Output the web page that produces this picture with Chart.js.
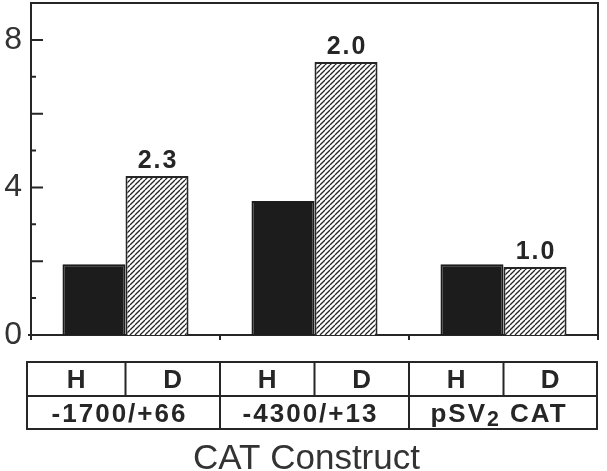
<!DOCTYPE html>
<html>
<head>
<meta charset="utf-8">
<script src="https://cdn.jsdelivr.net/npm/chart.js@4.4.1/dist/chart.umd.min.js"></script>
<style>
  body { margin: 0; background: #fff; }
  #wrap { width: 607px; height: 471px; }
</style>
</head>
<body>
<div id="wrap"><canvas id="grafico" width="607" height="471"></canvas></div>
<script>
// datos
const construcciones = ['-1700/+66', '-4300/+13', 'pSV_2 CAT'];
const celdas = ['H', 'D'];
const valoresH = [1.92, 3.63, 1.92];
const valoresD = [4.31, 7.40, 1.84];
const cocientes = ['2.3', '2.0', '1.0'];
const etiquetasY = [0, 4, 8];
const tituloX = 'CAT Construct';

const tinta = '#262626';
const fuente = '"Liberation Sans", Arial, Helvetica, sans-serif';

// trama rayada para las barras D
function crearTrama() {
    const s = 5;
    const c = document.createElement('canvas');
    c.width = s; c.height = s;
    const g = c.getContext('2d');
    g.fillStyle = '#fff';
    g.fillRect(0, 0, s, s);
    g.strokeStyle = tinta;
    g.lineWidth = 1.3;
    for (let o = -s; o <= s; o += s) {
        g.beginPath();
        g.moveTo(o, s);
        g.lineTo(o + s, 0);
        g.stroke();
    }
    return g.createPattern(c, 'repeat');
}

// texto con subindice marcado con "_"
function textoConSub(ctx, txt, cx, base, size) {
    const partes = [];
    let i = 0;
    while (i < txt.length) {
        const j = txt.indexOf('_', i);
        if (j < 0) { partes.push({ t: txt.slice(i), sub: false }); break; }
        if (j > i) partes.push({ t: txt.slice(i, j), sub: false });
        partes.push({ t: txt[j + 1], sub: true });
        i = j + 2;
    }
    let total = 0;
    partes.forEach(p => {
        ctx.font = 'bold ' + (p.sub ? size * 0.82 : size) + 'px ' + fuente;
        p.w = ctx.measureText(p.t).width;
        total += p.w;
    });
    let xx = cx - total / 2;
    ctx.textAlign = 'left';
    partes.forEach(p => {
        ctx.font = 'bold ' + (p.sub ? size * 0.82 : size) + 'px ' + fuente;
        ctx.fillText(p.t, xx, base + (p.sub ? 4 : 0));
        xx += p.w;
    });
}

const extras = {
    id: 'extras',
    afterDraw(chart) {
        const { ctx, chartArea: a, scales: { x, y } } = chart;
        ctx.save();
        ctx.strokeStyle = tinta;
        ctx.fillStyle = tinta;
        ctx.lineWidth = 2;

        // marco superior y derecho
        ctx.beginPath();
        ctx.moveTo(a.left, a.top);
        ctx.lineTo(a.right, a.top);
        ctx.lineTo(a.right, a.bottom);
        ctx.stroke();

        // marcas hacia dentro en el eje Y
        ctx.beginPath();
        for (let v = 1; v <= 8; v++) {
            const yy = y.getPixelForValue(v);
            ctx.moveTo(a.left, yy);
            ctx.lineTo(a.left + (v % 2 === 0 ? 12 : 5), yy);
        }
        ctx.moveTo(a.left - 3, y.getPixelForValue(0));
        ctx.lineTo(a.left, y.getPixelForValue(0));
        ctx.stroke();

        // cocientes sobre las barras D
        ctx.font = 'bold 25px ' + fuente;
        ctx.letterSpacing = '2px';
        ctx.textAlign = 'center';
        ctx.textBaseline = 'alphabetic';
        chart.getDatasetMeta(1).data.forEach((barra, i) => {
            ctx.fillText(cocientes[i], barra.x + 1, barra.y - 8);
        });

        // tabla bajo el eje
        const mitad = (x.getPixelForValue(1) - x.getPixelForValue(0)) / 2;
        const izq = a.left - 4, der = a.right - 1;
        const t0 = a.bottom + 27, t1 = a.bottom + 61, t2 = a.bottom + 94;
        ctx.strokeRect(izq, t0, der - izq, t2 - t0);
        ctx.beginPath();
        ctx.moveTo(izq, t1);
        ctx.lineTo(der, t1);
        for (let i = 0; i < construcciones.length; i++) {
            const cx = x.getPixelForValue(i);
            ctx.moveTo(cx, t0);
            ctx.lineTo(cx, t1);
            if (i > 0) {
                ctx.moveTo(cx - mitad, t0);
                ctx.lineTo(cx - mitad, t2);
            }
        }
        ctx.stroke();

        ctx.letterSpacing = '0px';
        for (let i = 0; i < construcciones.length; i++) {
            const cx = x.getPixelForValue(i);
            const ini = i === 0 ? izq : cx - mitad;
            const fin = i === construcciones.length - 1 ? der : cx + mitad;
            ctx.font = 'bold 26px ' + fuente;
            ctx.textAlign = 'center';
            ctx.fillText(celdas[0], (ini + cx) / 2, t1 - 8);
            ctx.fillText(celdas[1], (cx + fin) / 2, t1 - 8);
            ctx.letterSpacing = '2px';
            textoConSub(ctx, construcciones[i], (ini + fin) / 2 - 4, t2 - 7, 26);
            ctx.letterSpacing = '0px';
        }

        // titulo del eje X
        ctx.font = '35px ' + fuente;
        ctx.textAlign = 'center';
        ctx.fillStyle = '#333';
        ctx.fillText(tituloX, (a.left + a.right) / 2 - 8, 469);
        ctx.restore();
    }
};

function dibujarGrafico() {
    const canvas = document.getElementById('grafico');
    const trama = crearTrama();

    new Chart(canvas, {
        type: 'bar',
        data: {
            labels: construcciones,
            datasets: [{
                label: celdas[0],
                data: valoresH,
                backgroundColor: '#1c1c1c',
                borderColor: '#1c1c1c',
                borderWidth: 2,
                categoryPercentage: 0.667,
                barPercentage: 1.0
            }, {
                label: celdas[1],
                data: valoresD,
                backgroundColor: trama,
                borderColor: tinta,
                borderWidth: 2,
                categoryPercentage: 0.667,
                barPercentage: 1.0
            }]
        },
        options: {
            responsive: false,
            animation: false,
            devicePixelRatio: 1,
            layout: { padding: { top: 3, right: 9, left: 0, bottom: 0 } },
            plugins: { legend: { display: false }, tooltip: { enabled: false } },
            scales: {
                x: {
                    afterFit(s) { s.height = 136; s.paddingLeft = 0; s.paddingRight = 0; },
                    ticks: { display: false },
                    grid: {
                        display: true,
                        offset: true,
                        drawOnChartArea: false,
                        drawTicks: true,
                        tickLength: 5,
                        color: tinta,
                        lineWidth: 2
                    },
                    border: { display: true, color: tinta, width: 2 }
                },
                y: {
                    min: 0,
                    max: 9,
                    afterFit(s) { s.width = 31; s.paddingTop = 0; s.paddingBottom = 0; },
                    ticks: {
                        stepSize: 1,
                        padding: 9,
                        color: '#333',
                        font: { family: fuente, size: 32 },
                        callback: v => etiquetasY.includes(v) ? String(v) : ''
                    },
                    grid: { display: false, drawTicks: false },
                    border: { display: true, color: tinta, width: 2 }
                }
            }
        },
        plugins: [extras]
    });
}

dibujarGrafico();
</script>
</body>
</html>
